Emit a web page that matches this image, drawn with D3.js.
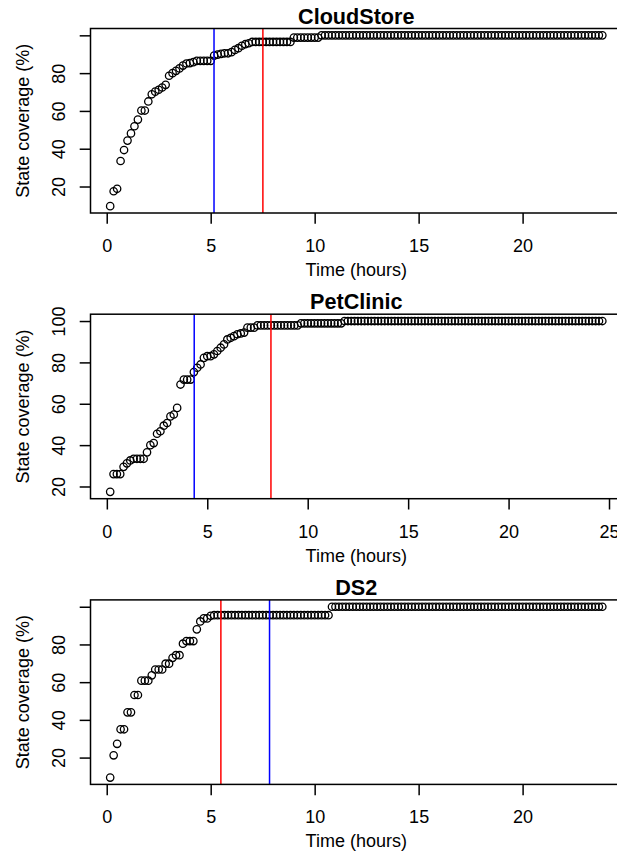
<!DOCTYPE html>
<html>
<head>
<meta charset="utf-8">
<script src="https://cdn.jsdelivr.net/npm/d3@7"></script>
<style>
  html, body { margin: 0; padding: 0; background: #ffffff; }
  svg { display: block; }
  text { font-family: "Liberation Sans", Arial, Helvetica, sans-serif; fill: #000; }
</style>
</head>
<body>
<script>
// ---- data -------------------------------------------------------------
// Coverage is sampled every 10 minutes; sample k (1-based) is at k/6 hours.
const sampleIntervalHours = 1 / 6;

const panelTitles = ["CloudStore", "PetClinic", "DS2"];

const cloudStoreCoverage = [
  9.6, 17.5, 18.8, 33.5, 39.3, 44.3, 48.1, 51.9, 55.4, 60.2,
  60.2, 65.0, 68.8, 70.2, 71.2, 72.4, 73.8, 78.6, 80.0, 81.2,
  82.5, 84.0, 85.1, 85.3, 85.8, 86.5, 86.5, 86.5, 86.5, 86.5,
  89.3, 89.8, 90.2, 90.5, 90.5, 91.1, 92.3, 93.2, 94.5, 95.3,
  95.8, 96.5, 96.5, 96.5, 96.5, 96.5, 96.5, 96.5, 96.5, 96.5,
  96.5, 96.5, 96.5, 98.8, 98.8, 98.8, 98.8, 98.8, 98.8, 98.8,
  98.8, 100, 100, 100, 100, 100, 100, 100, 100, 100,
  100, 100, 100, 100, 100, 100, 100, 100, 100, 100,
  100, 100, 100, 100, 100, 100, 100, 100, 100, 100,
  100, 100, 100, 100, 100, 100, 100, 100, 100, 100,
  100, 100, 100, 100, 100, 100, 100, 100, 100, 100,
  100, 100, 100, 100, 100, 100, 100, 100, 100, 100,
  100, 100, 100, 100, 100, 100, 100, 100, 100, 100,
  100, 100, 100, 100, 100, 100, 100, 100, 100, 100,
  100, 100, 100
];

const petClinicCoverage = [
  17.4, 26.0, 26.0, 26.0, 29.5, 31.2, 32.6, 33.4, 33.4, 33.4,
  33.4, 36.5, 40.0, 41.0, 45.5, 46.7, 49.4, 50.7, 53.9, 54.8,
  58.0, 69.3, 71.7, 71.7, 71.7, 75.3, 77.4, 79.0, 82.2, 83.0,
  83.0, 83.9, 85.5, 87.1, 88.7, 91.1, 91.9, 92.7, 93.6, 94.0,
  94.4, 96.8, 96.8, 96.8, 97.9, 97.9, 97.9, 97.9, 97.9, 97.9,
  97.9, 97.9, 97.9, 97.9, 97.9, 97.9, 97.9, 98.9, 98.9, 98.9,
  98.9, 98.9, 98.9, 98.9, 98.9, 98.9, 98.9, 98.9, 98.9, 98.9,
  100, 100, 100, 100, 100, 100, 100, 100, 100, 100,
  100, 100, 100, 100, 100, 100, 100, 100, 100, 100,
  100, 100, 100, 100, 100, 100, 100, 100, 100, 100,
  100, 100, 100, 100, 100, 100, 100, 100, 100, 100,
  100, 100, 100, 100, 100, 100, 100, 100, 100, 100,
  100, 100, 100, 100, 100, 100, 100, 100, 100, 100,
  100, 100, 100, 100, 100, 100, 100, 100, 100, 100,
  100, 100, 100, 100, 100, 100, 100, 100
];

const ds2Coverage = [
  9.4, 21.2, 27.3, 35.0, 35.0, 44.0, 44.0, 53.2, 53.2, 60.8,
  60.8, 60.8, 63.6, 66.7, 66.7, 66.7, 69.8, 69.8, 72.9, 74.3,
  74.3, 80.4, 81.8, 81.8, 81.8, 88.0, 92.2, 93.8, 93.8, 95.2,
  95.5, 95.5, 95.5, 95.5, 95.5, 95.5, 95.5, 95.5, 95.5, 95.5,
  95.5, 95.5, 95.5, 95.5, 95.5, 95.5, 95.5, 95.5, 95.5, 95.5,
  95.5, 95.5, 95.5, 95.5, 95.5, 95.5, 95.5, 95.5, 95.5, 95.5,
  95.5, 95.5, 95.5, 95.5, 100, 100, 100, 100, 100, 100,
  100, 100, 100, 100, 100, 100, 100, 100, 100, 100,
  100, 100, 100, 100, 100, 100, 100, 100, 100, 100,
  100, 100, 100, 100, 100, 100, 100, 100, 100, 100,
  100, 100, 100, 100, 100, 100, 100, 100, 100, 100,
  100, 100, 100, 100, 100, 100, 100, 100, 100, 100,
  100, 100, 100, 100, 100, 100, 100, 100, 100, 100,
  100, 100, 100, 100, 100, 100, 100, 100, 100, 100,
  100, 100, 100
];

const coverageSeries = [cloudStoreCoverage, petClinicCoverage, ds2Coverage];

// Vertical reference lines (hours)
const blueLineHours = [5.16, 4.35, 7.83];
const redLineHours = [7.51, 8.17, 5.49];

// Axis ticks
const xTickValues = [[0, 5, 10, 15, 20], [0, 5, 10, 15, 20, 25], [0, 5, 10, 15, 20]];
const yTickValues = [20, 40, 60, 80, 100];
const yTickLabels = [["20", "40", "60", "80", ""], ["20", "40", "60", "80", "100"], ["20", "40", "60", "80", ""]];

const xAxisTitle = "Time (hours)";
const yAxisTitle = "State coverage (%)";

// ---- layout -----------------------------------------------------------
const width = 617, height = 853;
const plotLeft = 90.5, plotRight = 622;
const firstPanelTop = 28.5, panelStep = 285.7, plotHeight = 184.5;
const fontSize = 18, titleSize = 21.6;
const tickLen = 10.8;

const svg = d3.select("body").append("svg")
  .attr("width", width)
  .attr("height", height)
  .attr("viewBox", `0 0 ${width} ${height}`);

// R-style axis extension: 4% of the data range on each side
function paddedDomain(ext) {
  const pad = 0.04 * (ext[1] - ext[0]);
  return [ext[0] - pad, ext[1] + pad];
}

coverageSeries.forEach((values, k) => {
  const top = firstPanelTop + k * panelStep;
  const bottom = top + plotHeight;
  const points = values.map((v, i) => ({ t: (i + 1) * sampleIntervalHours, v }));

  const x = d3.scaleLinear()
    .domain(paddedDomain(d3.extent(points, d => d.t)))
    .range([plotLeft, plotRight]);
  const y = d3.scaleLinear()
    .domain(paddedDomain(d3.extent(points, d => d.v)))
    .range([bottom, top]);

  const g = svg.append("g");

  const clipId = `plot-clip-${k}`;
  g.append("clipPath").attr("id", clipId)
    .append("rect")
    .attr("x", plotLeft).attr("y", top)
    .attr("width", plotRight - plotLeft).attr("height", plotHeight);

  // points
  g.append("g")
    .attr("clip-path", `url(#${clipId})`)
    .selectAll("circle")
    .data(points)
    .join("circle")
    .attr("cx", d => x(d.t))
    .attr("cy", d => y(d.v))
    .attr("r", 3.7)
    .attr("fill", "none")
    .attr("stroke", "#000")
    .attr("stroke-width", 1.3);

  // vertical reference lines
  const refLines = [
    { h: blueLineHours[k], color: "#0000ff" },
    { h: redLineHours[k], color: "#ff0000" }
  ];
  g.append("g")
    .attr("clip-path", `url(#${clipId})`)
    .selectAll("line")
    .data(refLines)
    .join("line")
    .attr("x1", d => x(d.h)).attr("x2", d => x(d.h))
    .attr("y1", top).attr("y2", bottom)
    .attr("stroke", d => d.color)
    .attr("stroke-width", 1.5);

  // frame
  g.append("rect")
    .attr("x", plotLeft).attr("y", top)
    .attr("width", plotRight - plotLeft).attr("height", plotHeight)
    .attr("fill", "none")
    .attr("stroke", "#000")
    .attr("stroke-width", 1.5);

  // x axis
  const xAxis = g.append("g")
    .attr("transform", `translate(0,${bottom})`)
    .call(d3.axisBottom(x).tickValues(xTickValues[k]).tickSize(tickLen).tickFormat(d3.format("d")));
  xAxis.select(".domain").remove();
  xAxis.selectAll(".tick line").attr("stroke", "#000").attr("stroke-width", 1.5);
  xAxis.selectAll(".tick text")
    .attr("y", 39).attr("dy", null)
    .attr("font-size", fontSize)
    .attr("font-family", "Liberation Sans, Arial, sans-serif")
    .attr("fill", "#000");

  // y axis
  const labels = yTickLabels[k];
  const yAxis = g.append("g")
    .attr("transform", `translate(${plotLeft},0)`)
    .call(d3.axisLeft(y).tickValues(yTickValues).tickSize(tickLen)
      .tickFormat((d, i) => labels[i]));
  yAxis.select(".domain").remove();
  yAxis.selectAll(".tick line").attr("stroke", "#000").attr("stroke-width", 1.5);
  yAxis.selectAll(".tick text")
    .attr("x", null).attr("dy", null)
    .attr("transform", "translate(-25.5,0) rotate(-90)")
    .attr("text-anchor", "middle")
    .attr("font-size", fontSize)
    .attr("font-family", "Liberation Sans, Arial, sans-serif")
    .attr("fill", "#000");

  // titles
  const cx = (plotLeft + plotRight) / 2;
  g.append("text")
    .attr("x", cx).attr("y", top - 5)
    .attr("text-anchor", "middle")
    .attr("font-size", titleSize)
    .attr("font-weight", "bold")
    .text(panelTitles[k]);

  g.append("text")
    .attr("x", cx).attr("y", bottom + 63)
    .attr("text-anchor", "middle")
    .attr("font-size", fontSize)
    .text(xAxisTitle);

  g.append("text")
    .attr("transform", `translate(28.5,${(top + bottom) / 2}) rotate(-90)`)
    .attr("text-anchor", "middle")
    .attr("font-size", fontSize)
    .text(yAxisTitle);
});
</script>
</body>
</html>
